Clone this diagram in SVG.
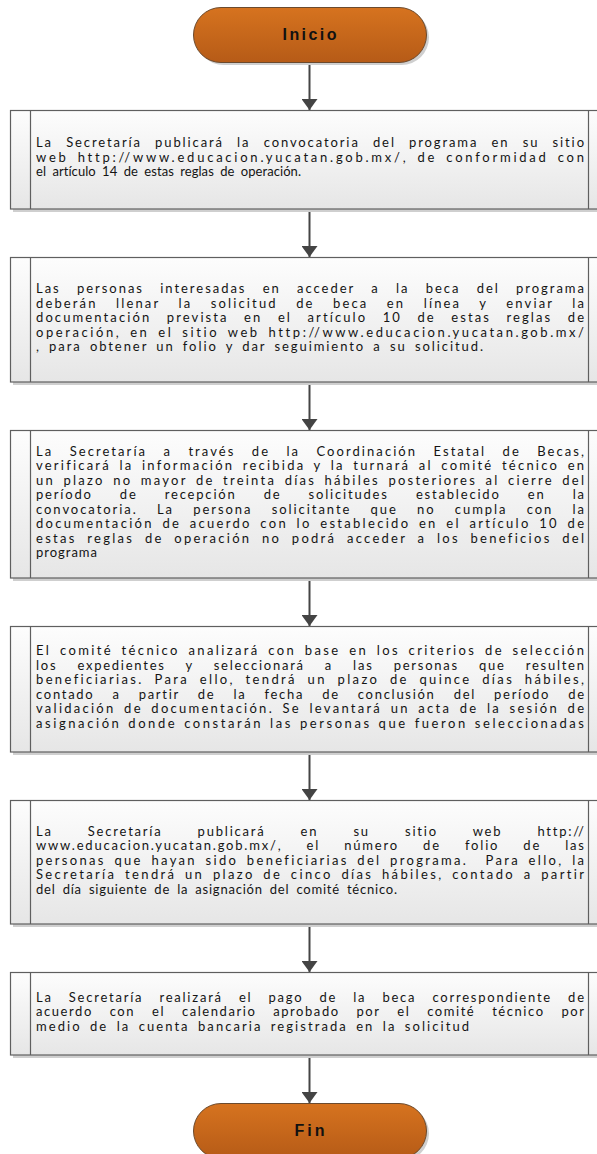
<svg xmlns="http://www.w3.org/2000/svg" width="597" height="1154" viewBox="0 0 597 1154">
<style>
.box{fill:url(#gBox);stroke:#5f5f5f;stroke-width:1.2}
.div{stroke:#5f5f5f;stroke-width:1.2}
.sh{fill:#cfcfcf}
.pill{fill:url(#gPill);stroke:#6b4a2e;stroke-width:1}
.t{font-family:Lato,"Liberation Sans",sans-serif;font-size:13px;fill:#141414;letter-spacing:1px;word-spacing:3px}
.pt{font-family:"Liberation Sans",Arial,sans-serif;font-size:16px;font-weight:bold;fill:#111;text-anchor:middle}
.con{stroke:#444;stroke-width:2;fill:none;marker-end:url(#arr)}
</style>
<defs>
<linearGradient id="gBox" x1="0" y1="0" x2="0" y2="1"><stop offset="0" stop-color="#fdfdfd"/><stop offset="1" stop-color="#e6e6e6"/></linearGradient>
<linearGradient id="gPill" x1="0" y1="0" x2="0" y2="1"><stop offset="0" stop-color="#d6731f"/><stop offset="1" stop-color="#b65b17"/></linearGradient>
<marker id="arr" viewBox="0 0 11 16" refX="11" refY="8" markerWidth="11" markerHeight="16" markerUnits="userSpaceOnUse" orient="auto"><path d="M0,0 L11,8 L0,16 z" fill="#444"/></marker>
</defs>

<g id="connectors">
<line class="con" x1="309.5" y1="62" x2="309.5" y2="110"/>
<line class="con" x1="309.5" y1="209" x2="309.5" y2="257"/>
<line class="con" x1="309.5" y1="382" x2="309.5" y2="430"/>
<line class="con" x1="309.5" y1="578" x2="309.5" y2="626"/>
<line class="con" x1="309.5" y1="752" x2="309.5" y2="800"/>
<line class="con" x1="309.5" y1="924" x2="309.5" y2="972"/>
<line class="con" x1="309.5" y1="1055" x2="309.5" y2="1103"/>
</g>

<g id="inicio">
<rect class="sh" x="196" y="10" width="233" height="55" rx="27.5"/>
<rect class="pill" x="193.5" y="7.5" width="233" height="55" rx="27.5"/>
<text class="pt" x="309.5" y="40" textLength="54" lengthAdjust="spacing">Inicio</text>
</g>

<g id="step1">
<rect class="sh" x="13" y="113" width="600" height="99"/>
<rect class="box" x="10.5" y="110.5" width="600" height="98.5"/>
<line class="div" x1="30.5" y1="110.5" x2="30.5" y2="209"/>
<line class="div" x1="588.5" y1="110.5" x2="588.5" y2="209"/>
<text class="t" x="36" y="147" textLength="549" lengthAdjust="spacing" style="word-spacing:8px">La Secretaría publicará la convocatoria del programa en su sitio</text>
<text class="t" x="36" y="161.5" textLength="549" lengthAdjust="spacing">web http://www.educacion.yucatan.gob.mx/, de conformidad con</text>
<text class="t" x="36" y="176" textLength="266" lengthAdjust="spacing">el artículo 14 de estas reglas de operación.</text>
</g>

<g id="step2">
<rect class="sh" x="13" y="260" width="600" height="125"/>
<rect class="box" x="10.5" y="257.5" width="600" height="124.5"/>
<line class="div" x1="30.5" y1="257.5" x2="30.5" y2="382"/>
<line class="div" x1="588.5" y1="257.5" x2="588.5" y2="382"/>
<text class="t" x="36" y="293" textLength="549" lengthAdjust="spacing" style="word-spacing:11px">Las personas interesadas en acceder a la beca del programa</text>
<text class="t" x="36" y="307.5" textLength="549" lengthAdjust="spacing" style="word-spacing:13px">deberán llenar la solicitud de beca en línea y enviar la</text>
<text class="t" x="36" y="322" textLength="549" lengthAdjust="spacing" style="word-spacing:10px">documentación prevista en el artículo 10 de estas reglas de</text>
<text class="t" x="36" y="336.5" textLength="549" lengthAdjust="spacing">operación, en el sitio web http://www.educacion.yucatan.gob.mx/</text>
<text class="t" x="36" y="351" textLength="448" lengthAdjust="spacing">, para obtener un folio y dar seguimiento a su solicitud.</text>
</g>

<g id="step3">
<rect class="sh" x="13" y="433" width="600" height="148"/>
<rect class="box" x="10.5" y="430.5" width="600" height="147.5"/>
<line class="div" x1="30.5" y1="430.5" x2="30.5" y2="578"/>
<line class="div" x1="588.5" y1="430.5" x2="588.5" y2="578"/>
<text class="t" x="36" y="455.75" textLength="549" lengthAdjust="spacing" style="word-spacing:11px">La Secretaría a través de la Coordinación Estatal de Becas,</text>
<text class="t" x="36" y="470.25" textLength="549" lengthAdjust="spacing">verificará la información recibida y la turnará al comité técnico en</text>
<text class="t" x="36" y="484.75" textLength="549" lengthAdjust="spacing">un plazo no mayor de treinta días hábiles posteriores al cierre del</text>
<text class="t" x="36" y="499.25" textLength="549" lengthAdjust="spacing" style="word-spacing:22px">período de recepción de solicitudes establecido en la</text>
<text class="t" x="36" y="513.75" textLength="549" lengthAdjust="spacing" style="word-spacing:14px">convocatoria. La persona solicitante que no cumpla con la</text>
<text class="t" x="36" y="528.25" textLength="549" lengthAdjust="spacing">documentación de acuerdo con lo establecido en el artículo 10 de</text>
<text class="t" x="36" y="542.75" textLength="549" lengthAdjust="spacing" style="word-spacing:5px">estas reglas de operación no podrá acceder a los beneficios del</text>
<text class="t" x="36" y="557.25" textLength="62" lengthAdjust="spacing">programa</text>
</g>

<g id="step4">
<rect class="sh" x="13" y="629" width="600" height="126"/>
<rect class="box" x="10.5" y="626.5" width="600" height="125.5"/>
<line class="div" x1="30.5" y1="626.5" x2="30.5" y2="752"/>
<line class="div" x1="588.5" y1="626.5" x2="588.5" y2="752"/>
<text class="t" x="36" y="655.25" textLength="549" lengthAdjust="spacing">El comité técnico analizará con base en los criterios de selección</text>
<text class="t" x="36" y="669.75" textLength="549" lengthAdjust="spacing" style="word-spacing:15px">los expedientes y seleccionará a las personas que resulten</text>
<text class="t" x="36" y="684.25" textLength="549" lengthAdjust="spacing" style="word-spacing:5px">beneficiarias. Para ello, tendrá un plazo de quince días hábiles,</text>
<text class="t" x="36" y="698.75" textLength="549" lengthAdjust="spacing" style="word-spacing:13px">contado a partir de la fecha de conclusión del período de</text>
<text class="t" x="36" y="713.25" textLength="549" lengthAdjust="spacing">validación de documentación. Se levantará un acta de la sesión de</text>
<text class="t" x="36" y="727.75" textLength="549" lengthAdjust="spacing" style="word-spacing:1px">asignación donde constarán las personas que fueron seleccionadas</text>
</g>

<g id="step5">
<rect class="sh" x="13" y="803" width="600" height="124"/>
<rect class="box" x="10.5" y="800.5" width="600" height="123.5"/>
<line class="div" x1="30.5" y1="800.5" x2="30.5" y2="924"/>
<line class="div" x1="588.5" y1="800.5" x2="588.5" y2="924"/>
<text class="t" x="36" y="835.5" textLength="549" lengthAdjust="spacing" style="word-spacing:30px">La Secretaría publicará en su sitio web http://</text>
<text class="t" x="36" y="850" textLength="549" lengthAdjust="spacing" style="word-spacing:19px">www.educacion.yucatan.gob.mx/, el número de folio de las</text>
<text class="t" x="36" y="864.5" textLength="549" lengthAdjust="spacing" xml:space="preserve">personas que hayan sido beneficiarias del programa.  Para ello, la</text>
<text class="t" x="36" y="879" textLength="549" lengthAdjust="spacing">Secretaría tendrá un plazo de cinco días hábiles, contado a partir</text>
<text class="t" x="36" y="893.5" textLength="362" lengthAdjust="spacing">del día siguiente de la asignación del comité técnico.</text>
</g>

<g id="step6">
<rect class="sh" x="13" y="975" width="600" height="83"/>
<rect class="box" x="10.5" y="972.5" width="600" height="82.5"/>
<line class="div" x1="30.5" y1="972.5" x2="30.5" y2="1055"/>
<line class="div" x1="588.5" y1="972.5" x2="588.5" y2="1055"/>
<text class="t" x="36" y="1001.5" textLength="549" lengthAdjust="spacing" style="word-spacing:11px">La Secretaría realizará el pago de la beca correspondiente de</text>
<text class="t" x="36" y="1016" textLength="549" lengthAdjust="spacing" style="word-spacing:12px">acuerdo con el calendario aprobado por el comité técnico por</text>
<text class="t" x="36" y="1030.5" textLength="434" lengthAdjust="spacing">medio de la cuenta bancaria registrada en la solicitud</text>
</g>

<g id="fin">
<rect class="sh" x="196" y="1106" width="233" height="55" rx="27.5"/>
<rect class="pill" x="193.5" y="1103.5" width="233" height="55" rx="27.5"/>
<text class="pt" x="309.5" y="1136" textLength="30" lengthAdjust="spacing">Fin</text>
</g>
</svg>
